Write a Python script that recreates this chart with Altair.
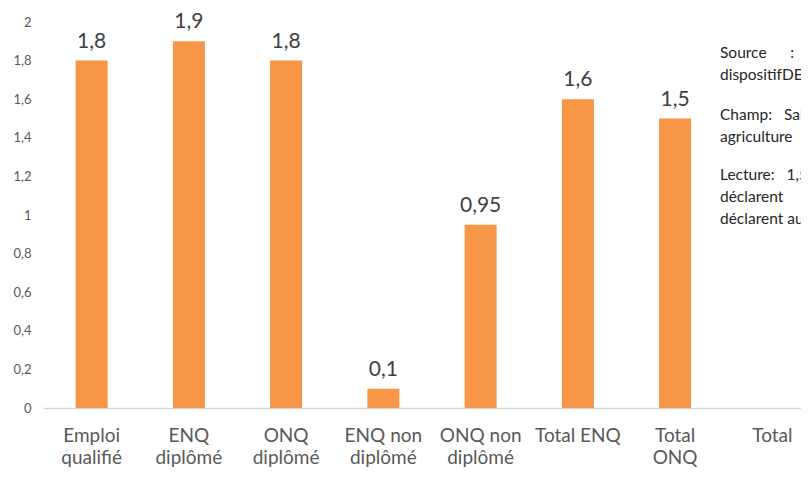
import altair as alt
import pandas as pd

categories = ["Emploi|qualifié", "ENQ|diplômé", "ONQ|diplômé", "ENQ non|diplômé",
              "ONQ non|diplômé", "Total ENQ", "Total|ONQ", "Total"]
values = [1.8, 1.9, 1.8, 0.1, 0.95, 1.6, 1.5, None]
value_labels = ["1,8", "1,9", "1,8", "0,1", "0,95", "1,6", "1,5", ""]
y_ticks = [0, 0.2, 0.4, 0.6, 0.8, 1, 1.2, 1.4, 1.6, 1.8, 2]

S = "\u00a0"
note_lines = ["Source" + S * 6 + ":" + S * 6 + "Céreq,", "dispositif" + "DEFIS",
              "Champ:" + S * 3 + "Salariés", "agriculture" + S * 2 + "et",
              "Lecture:" + S * 3 + "1,5", "déclarent" + S * 5 + "se", "déclarent" + S + "au"]
note_y = [31, 53, 93, 115, 153, 175, 197]

df = pd.DataFrame({"cat": categories, "val": values, "lab": value_labels})
notes = pd.DataFrame({"t": note_lines, "yy": note_y})

FONT = "Lato"
x_axis = alt.Axis(labelExpr="split(datum.label, '|')", labelAngle=0, labelFontSize=19,
                  labelColor="#595959", labelFont=FONT, labelPadding=18, labelLineHeight=22,
                  labelBaseline="top", ticks=False, domainColor="#d9d9d9", domainWidth=1.5,
                  labelOverlap=False)
y_axis = alt.Axis(values=y_ticks, grid=False, domain=False, ticks=False,
                  labelOverlap=False, labelBound=False, labelFlush=False,
                  labelExpr="replace(format(datum.value, ''), '.', ',')",
                  labelFontSize=13, labelColor="#595959", labelFont=FONT, labelPadding=12)
x_scale = alt.Scale(range=[0, 778], paddingInner=0.0, paddingOuter=0.0)
y_scale = alt.Scale(domain=[0, 2], nice=False)

bars = alt.Chart(df).mark_bar(color="#F79646", size=32).encode(
    x=alt.X("cat:N", sort=categories, title=None, scale=x_scale, axis=x_axis),
    y=alt.Y("val:Q", title=None, scale=y_scale, axis=y_axis)
)

text = alt.Chart(df).mark_text(dy=-13, baseline="alphabetic", fontSize=21, color="#404040",
                               font=FONT).encode(
    x=alt.X("cat:N", sort=categories, title=None, scale=x_scale, axis=x_axis),
    y=alt.Y("val:Q", title=None, scale=y_scale, axis=y_axis),
    text="lab:N"
)

note = alt.Chart(notes).mark_text(align="left", baseline="middle", fontSize=15.5, color="#262626",
                                  font=FONT).encode(
    x=alt.value(677),
    y=alt.Y("yy:Q", scale=None),
    text="t:N"
)

chart = alt.layer(bars, text, note).properties(
    width=758, height=386,
    autosize=alt.AutoSizeParams(type="none"),
    padding={"left": 35, "top": 14, "right": 0, "bottom": 61}
).configure_view(stroke=None).configure_axisY(labelOverlap=False)

chart.save("out.html", embed_options={"renderer": "svg", "actions": False})
